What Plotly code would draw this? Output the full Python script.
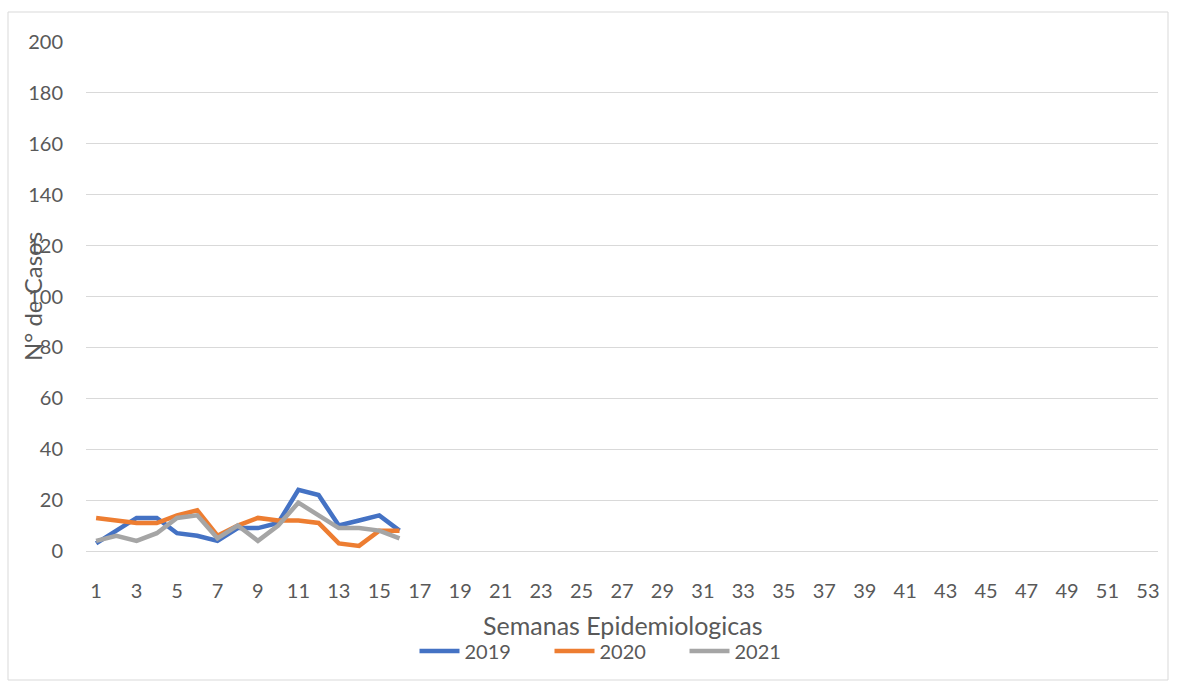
import plotly.graph_objects as go

weeks = list(range(1, 17))
y2019 = [3, 8, 13, 13, 7, 6, 4, 9, 9, 11, 24, 22, 10, 12, 14, 8]
y2020 = [13, 12, 11, 11, 14, 16, 6, 10, 13, 12, 12, 11, 3, 2, 8, 8]
y2021 = [4, 6, 4, 7, 13, 14, 5, 10, 4, 10, 19, 14, 9, 9, 8, 5]
tick_weeks = list(range(1, 54, 2))
series = [("2019", y2019, "#4472C4"), ("2020", y2020, "#ED7D31"), ("2021", y2021, "#A5A5A5")]

font = "Lato, 'Open Sans', sans-serif"
fig = go.Figure()
for name, ys, col in series:
    fig.add_trace(go.Scatter(x=weeks, y=ys, name=name, mode="lines",
                             line=dict(color=col, width=4.5)))

L, R, T, B = 86, 1158, 42, 551
W, H = 1177, 684
pw, ph = R - L, B - T

def px(x):
    return (x - L) / pw

def py(y):
    return (B - y) / ph

fig.update_layout(
    width=W, height=H,
    margin=dict(l=L, r=W - R, t=T, b=H - B),
    paper_bgcolor="white", plot_bgcolor="white",
    font=dict(family=font, size=20, color="#595959"),
    xaxis=dict(range=[0.5, 53.5], tickvals=tick_weeks, ticktext=[str(t) for t in tick_weeks],
               showgrid=False, showline=True, linecolor="#d9d9d9", linewidth=1,
               ticks="", zeroline=False, ticklabelstandoff=22,
               tickfont=dict(size=20, color="#595959")),
    yaxis=dict(range=[0, 200], dtick=20, showgrid=True, gridcolor="#d9d9d9", gridwidth=1,
               zeroline=False, ticks="", ticklabelstandoff=22,
               tickfont=dict(size=20, color="#595959")),
    showlegend=True,
    legend=dict(orientation="h", x=px(617), xanchor="center", y=py(651), yanchor="middle",
                font=dict(size=20, color="#595959"), itemwidth=40, entrywidth=80,
                tracegroupgap=0, bgcolor="rgba(0,0,0,0)"),
    annotations=[
        dict(text="Semanas Epidemiologicas", xref="paper", yref="paper",
             x=px(623), y=py(625), showarrow=False,
             font=dict(size=25, color="#595959"), xanchor="center", yanchor="middle"),
        dict(text="N° de Casos", xref="paper", yref="paper",
             x=px(32), y=py(297), showarrow=False, textangle=-90,
             font=dict(size=24, color="#595959"), xanchor="center", yanchor="middle"),
    ],
    shapes=[dict(type="rect", xref="paper", yref="paper",
                 x0=px(8), x1=px(1168), y0=py(680), y1=py(12),
                 line=dict(color="#d9d9d9", width=1), fillcolor="rgba(0,0,0,0)", layer="below")],
)
fig.write_html(
    "out.html",
    config={"displayModeBar": False},
    post_script="document.body.style.margin='0';document.body.style.overflow='hidden';"
                "document.documentElement.style.overflow='hidden';",
)
